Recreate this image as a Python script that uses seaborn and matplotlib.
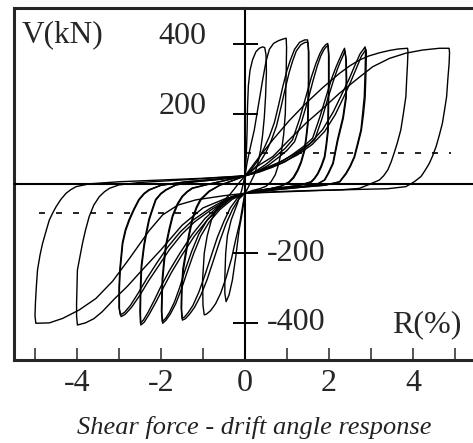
import numpy as np
import pandas as pd
import matplotlib
matplotlib.use("Agg")
import matplotlib.pyplot as plt
import seaborn as sns

sns.set_theme(style="white")
plt.rcParams["font.family"] = ["Liberation Serif", "DejaVu Serif"]
plt.rcParams["axes.unicode_minus"] = False

# ---------------- data ----------------
# each cycle: R (%) and V (kN) in time order
c05_R = [0.00, 0.03, 0.05, 0.06, 0.08, 0.12, 0.18, 0.26, 0.34, 0.42, 0.47,
         0.50, 0.51, 0.49, 0.46, 0.42, 0.37, 0.30, 0.22, 0.14, 0.06, 0.00,
         -0.06, -0.14, -0.22, -0.30, -0.38, -0.45,
         -0.48, -0.48, -0.46, -0.42, -0.33, -0.18, -0.08, 0.00]
c05_V = [22, 80, 150, 220, 280, 325, 355, 378, 388, 392, 390,
         370, 320, 250, 190, 140, 95, 55, 25, 5, -15, -28,
         -80, -133, -210, -277, -320, -339,
         -315, -270, -200, -150, -105, -57, -20, 22]

c10_R = [0.00, 0.05, 0.12, 0.22, 0.32, 0.42, 0.50, 0.58, 0.68, 0.80, 0.92, 0.98,
         0.99, 0.98, 0.96, 0.92, 0.87, 0.80, 0.72, 0.62, 0.50, 0.35, 0.18, 0.00,
         -0.05, -0.12, -0.22, -0.32, -0.45, -0.58, -0.70, -0.82, -0.92, -0.97,
         -1.00, -1.01, -0.97, -0.90, -0.80, -0.68, -0.57, -0.45, -0.37, -0.25, -0.12, 0.00]
c10_V = [22, 60, 100, 153, 225, 297, 350, 385, 402, 410, 415, 417,
         390, 316, 201, 140, 95, 55, 25, 5, -8, -15, -20, -28,
         -60, -110, -160, -215, -270, -315, -345, -365, -375, -377,
         -350, -277, -200, -150, -105, -75, -57, -42, -33, -15, 5, 22]

c15_R = [0.00, 0.15, 0.30, 0.45, 0.58, 0.70, 0.80, 0.90, 1.00, 1.08, 1.18, 1.30, 1.42, 1.49,
         1.51, 1.51, 1.49, 1.45, 1.41, 1.33, 1.25, 1.15, 1.05, 0.85, 0.60, 0.30, 0.00,
         -0.15, -0.30, -0.45, -0.60, -0.75, -0.90, -1.05, -1.20, -1.32, -1.42, -1.49,
         -1.51, -1.50, -1.47, -1.40, -1.33, -1.25, -1.15, -1.05, -0.85, -0.60, -0.30, 0.00]
c15_V = [22, 40, 65, 100, 135, 175, 225, 278, 325, 354, 385, 405, 412, 412,
         380, 297, 173, 130, 96, 62, 39, 18, 5, -8, -15, -22, -28,
         -45, -75, -115, -165, -220, -275, -320, -355, -375, -388, -392,
         -360, -306, -250, -200, -150, -105, -70, -47, -23, -5, 8, 22]

c15b_R = [0.00, 0.18, 0.35, 0.50, 0.63, 0.75, 0.85, 0.95, 1.05, 1.13, 1.22, 1.33, 1.43, 1.50,
          1.52, 1.52, 1.50, 1.46, 1.42, 1.34, 1.26, 1.16, 1.06, 0.85, 0.60, 0.30, 0.00,
          -0.18, -0.35, -0.50, -0.66, -0.81, -0.96, -1.10, -1.24, -1.35, -1.44, -1.50,
          -1.52, -1.51, -1.48, -1.41, -1.34, -1.26, -1.16, -1.06, -0.86, -0.60, -0.30, 0.00]
c15b_V = [22, 38, 60, 90, 125, 165, 215, 268, 318, 350, 380, 398, 405, 405,
          375, 290, 170, 128, 94, 60, 37, 16, 4, -8, -15, -22, -28,
          -42, -70, -108, -155, -210, -265, -312, -350, -370, -383, -387,
          -355, -300, -245, -195, -147, -102, -68, -45, -22, -5, 8, 22]

c20_R = [0.00, 0.25, 0.50, 0.75, 0.95, 1.13, 1.30, 1.45, 1.58, 1.69, 1.78, 1.85, 1.92, 1.97,
         1.99, 1.99, 1.97, 1.93, 1.89, 1.81, 1.73, 1.65, 1.57, 1.30, 1.00, 0.60, 0.30, 0.00,
         -0.30, -0.60, -0.85, -1.05, -1.22, -1.38, -1.52, -1.65, -1.78, -1.88, -1.96,
         -1.98, -1.97, -1.96, -1.92, -1.88, -1.80, -1.72, -1.60, -1.49, -1.37, -1.25, -0.90, -0.50, 0.00]
c20_V = [22, 35, 55, 80, 100, 125, 185, 249, 305, 345, 372, 388, 398, 402,
         370, 297, 153, 110, 77, 50, 29, 15, 5, -5, -10, -15, -20, -28,
         -45, -75, -110, -150, -200, -255, -305, -345, -375, -392, -401,
         -370, -320, -277, -225, -181, -135, -95, -60, -38, -24, -14, -3, 8, 22]

c20b_R = [0.00, 0.28, 0.55, 0.80, 1.00, 1.18, 1.35, 1.50, 1.62, 1.72, 1.80, 1.87, 1.93, 1.98,
          2.00, 2.00, 1.98, 1.94, 1.90, 1.82, 1.74, 1.66, 1.58, 1.30, 1.00, 0.60, 0.30, 0.00,
          -0.35, -0.65, -0.90, -1.10, -1.27, -1.43, -1.56, -1.68, -1.80, -1.89, -1.97,
          -1.99, -1.98, -1.97, -1.93, -1.89, -1.81, -1.73, -1.61, -1.50, -1.38, -1.26, -0.90, -0.50, 0.00]
c20b_V = [22, 34, 52, 75, 95, 120, 178, 240, 295, 337, 365, 382, 392, 396,
          365, 292, 150, 108, 75, 48, 28, 14, 4, -5, -10, -15, -20, -28,
          -43, -72, -105, -145, -195, -250, -300, -340, -370, -387, -396,
          -365, -315, -272, -220, -178, -132, -93, -58, -37, -23, -13, -3, 8, 22]

c25_R = [0.00, 0.30, 0.60, 0.90, 1.15, 1.38, 1.61, 1.78, 1.93, 2.06, 2.17, 2.26, 2.32, 2.37,
         2.40, 2.41, 2.40, 2.33, 2.20, 2.09, 1.98, 1.89, 1.70, 1.40, 1.00, 0.50, 0.00,
         -0.30, -0.60, -0.90, -1.20, -1.50, -1.75, -1.95, -2.12, -2.28, -2.40, -2.48,
         -2.49, -2.48, -2.46, -2.40, -2.34, -2.28, -2.20, -2.12, -2.00, -1.88, -1.64, -1.20, -0.60, 0.00]
c25_V = [22, 33, 48, 65, 85, 105, 130, 190, 249, 300, 335, 360, 376, 388,
         360, 300, 249, 190, 125, 58, 30, 10, -3, -8, -12, -20, -28,
         -40, -70, -105, -150, -205, -255, -300, -340, -375, -398, -406,
         -370, -300, -240, -181, -140, -105, -75, -47, -30, -19, -4, 5, 12, 22]

c25b_R = [0.00, 0.32, 0.64, 0.95, 1.20, 1.43, 1.66, 1.83, 1.97, 2.10, 2.20, 2.28, 2.34, 2.38,
          2.41, 2.42, 2.41, 2.34, 2.21, 2.10, 1.99, 1.90, 1.70, 1.40, 1.00, 0.50, 0.00,
          -0.33, -0.65, -0.95, -1.25, -1.55, -1.80, -2.00, -2.16, -2.31, -2.42, -2.49,
          -2.50, -2.49, -2.47, -2.41, -2.35, -2.29, -2.21, -2.13, -2.01, -1.89, -1.65, -1.20, -0.60, 0.00]
c25b_V = [22, 32, 46, 62, 82, 102, 126, 185, 243, 293, 328, 352, 368, 380,
          355, 295, 245, 187, 123, 57, 29, 10, -3, -8, -12, -20, -28,
          -38, -67, -100, -145, -200, -250, -295, -335, -370, -392, -400,
          -365, -296, -236, -178, -138, -103, -74, -46, -29, -18, -4, 5, 12, 22]

c30_R = [0.00, 0.40, 0.80, 1.20, 1.55, 1.85, 2.10, 2.30, 2.48, 2.62, 2.74, 2.86,
         2.87, 2.86, 2.84, 2.80, 2.76, 2.68, 2.60, 2.50, 2.40, 2.25, 1.90, 1.40, 0.80, 0.00,
         -0.40, -0.80, -1.20, -1.50, -1.80, -2.05, -2.30, -2.50, -2.70, -2.85, -2.95,
         -2.99, -2.99, -2.97, -2.91, -2.84, -2.75, -2.64, -2.52, -2.40, -2.28, -2.00, -1.40, -0.70, 0.00]
c30_V = [22, 40, 60, 85, 115, 155, 205, 255, 300, 340, 372, 392,
         380, 320, 249, 200, 154, 115, 77, 50, 29, 5, -5, -10, -17, -28,
         -45, -75, -110, -145, -190, -235, -280, -320, -355, -375, -382,
         -360, -300, -248, -172, -135, -105, -75, -47, -30, -19, -5, 5, 12, 22]

c30b_R = [0.00, 0.42, 0.84, 1.25, 1.60, 1.90, 2.15, 2.35, 2.52, 2.66, 2.77, 2.88,
          2.89, 2.88, 2.86, 2.82, 2.77, 2.69, 2.61, 2.51, 2.41, 2.26, 1.90, 1.40, 0.80, 0.00,
          -0.42, -0.84, -1.25, -1.55, -1.85, -2.10, -2.34, -2.54, -2.73, -2.87, -2.97,
          -3.00, -3.00, -2.98, -2.92, -2.85, -2.76, -2.65, -2.53, -2.41, -2.29, -2.00, -1.40, -0.70, 0.00]
c30b_V = [22, 38, 57, 82, 112, 150, 198, 248, 293, 333, 365, 385,
          375, 316, 246, 198, 152, 113, 76, 49, 28, 5, -5, -10, -17, -28,
          -43, -72, -106, -140, -184, -228, -273, -314, -350, -370, -377,
          -356, -297, -245, -170, -133, -103, -74, -46, -29, -18, -5, 5, 12, 22]

c40_R = [0.00, 0.30, 0.66, 1.05, 1.45, 1.85, 2.25, 2.50, 2.72, 2.95, 3.20, 3.45, 3.65, 3.87,
         3.88, 3.87, 3.85, 3.83, 3.77, 3.71, 3.63, 3.55, 3.48, 3.40, 3.30, 3.20, 2.95, 2.72, 2.30, 1.60, 0.80, 0.00,
         -0.50, -1.00, -1.50, -2.00, -2.50, -2.80, -3.10, -3.40, -3.60, -3.80, -3.99,
         -4.01, -4.01, -3.99, -3.93, -3.87, -3.80, -3.71, -3.60, -3.47, -3.35, -3.23, -3.00, -2.50, -1.80, -1.00, 0.00]
c40_V = [22, 70, 125, 180, 230, 275, 316, 338, 354, 366, 375, 382, 386, 388,
         380, 345, 300, 249, 200, 154, 118, 87, 62, 39, 22, 10, -3, -14, -18, -20, -23, -28,
         -45, -70, -120, -190, -255, -295, -330, -368, -388, -400, -406,
         -380, -344, -248, -210, -172, -135, -95, -62, -38, -24, -14, -4, 3, 8, 14, 22]

c50_R = [0.00, 0.30, 0.66, 1.05, 1.45, 1.85, 2.25, 2.64, 3.04, 3.44, 3.83, 4.23, 4.63, 4.86,
         4.87, 4.86, 4.83, 4.80, 4.75, 4.70, 4.63, 4.55, 4.47, 4.39, 4.29, 4.19, 4.03, 3.83, 3.40, 2.70, 1.80, 0.90, 0.00,
         -0.50, -1.17, -1.60, -1.96, -2.28, -2.75, -3.15, -3.55, -3.95, -4.34, -4.66, -4.98,
         -5.00, -4.99, -4.97, -4.94, -4.88, -4.82, -4.74, -4.66, -4.58, -4.50, -4.38, -4.26, -4.14, -4.02, -3.71, -3.00, -2.00, -1.00, 0.00]
c50_V = [22, 50, 77, 125, 173, 215, 259, 297, 335, 359, 374, 383, 388, 388,
         375, 345, 300, 249, 210, 173, 140, 106, 80, 58, 38, 20, 5, -9, -15, -17, -20, -24, -28,
         -35, -47, -62, -90, -135, -215, -280, -330, -363, -387, -400, -401,
         -380, -344, -300, -248, -205, -172, -138, -105, -85, -67, -45, -28, -17, -9, -1, 5, 10, 15, 22]

cycles_R = [c05_R, c10_R, c15_R, c15b_R, c20_R, c20b_R, c25_R, c25b_R,
            c30_R, c30b_R, c40_R, c50_R]
cycles_V = [c05_V, c10_V, c15_V, c15b_V, c20_V, c20b_V, c25_V, c25b_V,
            c30_V, c30b_V, c40_V, c50_V]

# dashed reference lines
dash_pos_R = [0.0, 4.9]
dash_pos_V = [87.5, 87.5]
dash_neg_R = [-4.9, -0.37]
dash_neg_V = [-85.5, -85.5]

xtick_major = [-4, -2, 0, 2, 4]
xtick_labels = ["-4", "-2", "0", "2", "4"]
xtick_minor = [-5, -3, -1, 1, 3, 5]
ytick_vals = [-400, -200, 200, 400]
ytick_labels = ["-400", "-200", "200", "400"]

# ---------------- build frame ----------------
rows = []
for k, (rs, vs) in enumerate(zip(cycles_R, cycles_V)):
    for r, v in zip(rs, vs):
        rows.append({"cycle": k, "R": r, "V": v})
df = pd.DataFrame(rows)

W, H = 473, 443
fig = plt.figure(figsize=(W / 100, H / 100), dpi=100)
ax = fig.add_axes([14 / W, (H - 359.5) / H, 462 / W, 352 / H])

sns.lineplot(data=df, x="R", y="V", units="cycle", estimator=None, sort=False,
             color="black", linewidth=1.0, ax=ax, legend=False)

ax.plot(dash_pos_R, dash_pos_V, color="black", lw=1.2, dashes=(3.6, 6.6))
ax.plot(dash_neg_R, dash_neg_V, color="black", lw=1.2, dashes=(3.6, 6.6))

ax.set_xlim(-5.5, 5.5)
ax.set_ylim(-505, 505)
ax.set_xlabel("")
ax.set_ylabel("")

ax.axhline(0, color="black", lw=1.5, zorder=3)

# spines
for s in ["top", "bottom"]:
    ax.spines[s].set_linewidth(2.2)
    ax.spines[s].set_color("#262626")
ax.spines["right"].set_visible(False)
ax.spines["left"].set_position(("data", 0))
ax.spines["left"].set_linewidth(1.5)
ax.spines["left"].set_color("black")
ax.plot([0, 0], [0, 1], transform=ax.transAxes, color="#262626", lw=2.2,
        clip_on=False, solid_capstyle="projecting")

# ticks
ax.set_xticks(xtick_major)
ax.set_xticklabels(xtick_labels)
ax.set_xticks(xtick_minor, minor=True)
ax.tick_params(axis="x", which="both", direction="in", length=9, width=1.1,
               color="#262626", labelsize=23, pad=7, bottom=True, top=False)
ax.set_yticks(ytick_vals)
ax.tick_params(axis="y", which="both", direction="inout", length=18, width=1.4,
               color="black", labelleft=False, left=True)

for val, lab in zip(ytick_vals, ytick_labels):
    if val > 0:
        ax.text(-0.92, val, lab, ha="right", va="baseline", fontsize=23)
    else:
        ax.text(0.51, val, lab, ha="left", va="center", fontsize=23)

ax.text(-5.33, 406, "V(kN)", ha="left", va="baseline", fontsize=22.5)
ax.text(3.5, -426, "R(%)", ha="left", va="baseline", fontsize=23)

fig.text(254.7 / W, 1 - 434 / H, "Shear force - drift angle response",
         ha="center", va="baseline", fontsize=19, style="italic", color="#222222")

fig.savefig("out.png", dpi=100)
